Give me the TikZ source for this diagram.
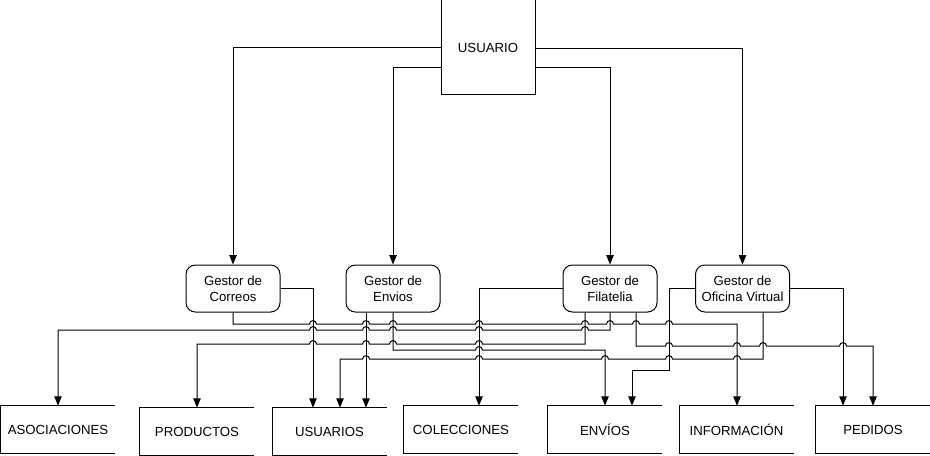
\documentclass[tikz,border=0pt]{standalone}
\usepackage{fontspec}
\setmainfont{Liberation Sans}
\usetikzlibrary{arrows.meta}
\newcommand{\hopr}[2]{-- (#1-3.5,#2) .. controls (#1-3.5,#2-4.5) and (#1+3.5,#2-4.5) .. (#1+3.5,#2)}
\newcommand{\hopl}[2]{-- (#1+3.5,#2) .. controls (#1+3.5,#2-4.5) and (#1-3.5,#2-4.5) .. (#1-3.5,#2)}
\begin{document}
\begin{tikzpicture}[x=0.75pt,y=-0.75pt,
  font=\fontsize{9.9}{12}\selectfont,
  flow/.style={-{Triangle[length=7pt,width=5.5pt]},line width=0.75pt},
  gestor/.style={draw,line width=0.75pt,rounded corners=7pt,align=center,minimum width=70.5pt,minimum height=35.25pt,inner sep=0pt},
  store/.style={minimum width=85.5pt,minimum height=35.25pt,inner sep=0pt}]
\useasboundingbox (0,0) rectangle (930,456);
\node[draw,line width=0.75pt,minimum width=70.5pt,minimum height=71.25pt,inner sep=0pt] (usuario) at (488,47.5) {USUARIO};
\node[gestor] (gcorreos) at (233,288.5) {Gestor de\\Correos};
\node[gestor] (genvios) at (393,288.5) {Gestor de\\Envios};
\node[gestor] (gfilatelia) at (610,288.5) {Gestor de\\Filatelia};
\node[gestor] (goficina) at (742.5,288.5) {Gestor de\\Oficina Virtual};
\node[store] (asoc) at (58,429.5) {ASOCIACIONES};
\node[store] (prod) at (197,431.5) {PRODUCTOS};
\node[store] (usus) at (329.5,431.5) {USUARIOS};
\node[store] (colec) at (461,429.5) {COLECCIONES};
\node[store] (envios) at (605,429.5) {ENVÍOS};
\node[store] (info) at (736.5,429.5) {INFORMACIÓN};
\node[store] (pedidos) at (873,429.5) {PEDIDOS};
\foreach \s in {asoc,prod,usus,colec,envios,info,pedidos}{
\draw[line width=0.75pt] (\s.north east) -- (\s.north west) -- (\s.south west) -- (\s.south east);
}

\draw[flow] (usuario.west |- 0,48) -| (gcorreos.north);
\draw[flow] (usuario.west |- 0,68) -| (genvios.north);
\draw[flow] (usuario.east |- 0,68) -| (gfilatelia.north);
\draw[flow] (usuario.east |- 0,49) -| (goficina.north);

\draw[flow] (gcorreos.east) -| (usus.north -| 313,0);
\draw[flow] (gcorreos.south) -- (gcorreos.south |- 0,324)
  \foreach \h in {313,366,393,479,585,610,636,669}{\hopr{\h}{324}} -| (info.north -| 737,0);
\draw[flow] (genvios.south -| 366,0) -- (usus.north -| 366,0);
\draw[flow] (genvios.south) -- (genvios.south |- 0,350) \hopr{479}{350} -| (envios.north);
\draw[flow] (gfilatelia.west) -| (colec.north -| 479,0);
\draw[flow] (gfilatelia.south) -- (gfilatelia.south |- 0,330)
  \foreach \h in {585,479,393,366,313}{\hopl{\h}{330}} -| (asoc.north);
\draw[flow] (gfilatelia.south -| 585,0) -- (585,344)
  \foreach \h in {479,393,366,313}{\hopl{\h}{344}} -| (prod.north);
\draw[flow] (gfilatelia.south -| 636,0) -- (636,346)
  \foreach \h in {669,737,763,843}{\hopr{\h}{346}} -| (pedidos.north);
\draw[flow] (goficina.west) -| (669,370) -| (envios.north -| 632,0);
\draw[flow] (goficina.south -| 763,0) -- (763,359)
  \foreach \h in {737,669,605,479,366}{\hopl{\h}{359}} -| (usus.north -| 340,0);
\draw[flow] (goficina.east) -| (pedidos.north -| 843,0);

\end{tikzpicture}
\end{document}
